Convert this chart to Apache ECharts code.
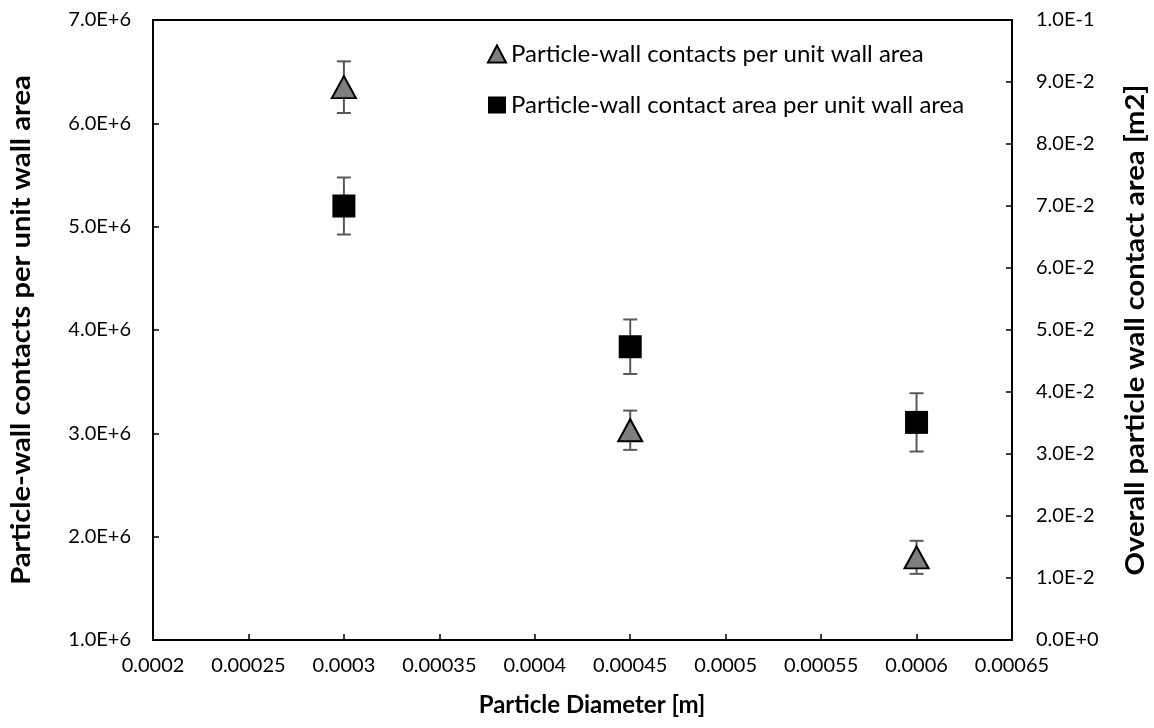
<!DOCTYPE html>
<html>
<head>
<meta charset="utf-8">
<title>Particle-wall contacts vs particle diameter</title>
<script src="https://cdn.jsdelivr.net/npm/echarts@6/dist/echarts.min.js"></script>
<style>
  html, body { margin: 0; padding: 0; background: #fff; }
  #chart { width: 1154px; height: 728px; }
</style>
</head>
<body>
<div id="chart"></div>
<script>
// Particle diameters [m]
const diameters = [0.0003, 0.00045, 0.0006];
// Particle-wall contacts per unit wall area (left axis) and their error half-widths
const contactsPerArea = [6.35e6, 3.03e6, 1.80e6];
const contactsErr = [0.25e6, 0.19e6, 0.16e6];
// Particle-wall contact area per unit wall area (right axis) and their error half-widths
const contactAreaPerArea = [0.0700, 0.0473, 0.0351];
const contactAreaErr = [0.0046, 0.0044, 0.0047];

const seriesNames = [
  'Particle-wall contacts per unit wall area',
  'Particle-wall contact area per unit wall area'
];
const leftTitle = 'Particle-wall contacts per unit wall area';
const rightTitle = 'Overall particle wall contact area [m2]';
const bottomTitle = 'Particle Diameter [m]';

const FONT = 'Lato, "Open Sans", sans-serif';

// Scientific label like 7.0E+6 / 9.0E-2 / 0.0E+0
function sci(v) {
  if (Math.abs(v) < 1e-12) return '0.0E+0';
  const e = Math.floor(Math.log10(Math.abs(v)) + 1e-9);
  const m = v / Math.pow(10, e);
  return m.toFixed(1) + 'E' + (e >= 0 ? '+' : '-') + Math.abs(e);
}

function errorRows(xs, ys, errs) {
  return xs.map((x, i) => [x, ys[i] - errs[i], ys[i] + errs[i]]);
}

// Vertical error bar with caps
function renderErrorBar(params, api) {
  const x = api.value(0);
  const lo = api.coord([x, api.value(1)]);
  const hi = api.coord([x, api.value(2)]);
  const half = 7;
  const style = { stroke: '#595959', lineWidth: 2 };
  return {
    type: 'group',
    children: [
      { type: 'line', shape: { x1: lo[0], y1: lo[1], x2: hi[0], y2: hi[1] }, style },
      { type: 'line', shape: { x1: lo[0] - half, y1: lo[1], x2: lo[0] + half, y2: lo[1] }, style },
      { type: 'line', shape: { x1: hi[0] - half, y1: hi[1], x2: hi[0] + half, y2: hi[1] }, style }
    ]
  };
}

// Rotated axis title, stretched along its baseline
function sideTitle(text, cx, cy, stretch) {
  return {
    type: 'text', x: cx, y: cy, rotation: Math.PI / 2, scaleX: stretch, scaleY: 1,
    style: {
      text, fontFamily: FONT, fontWeight: 'bold', fontSize: 26, fill: '#000',
      align: 'center', verticalAlign: 'middle'
    }
  };
}

const chart = echarts.init(document.getElementById('chart'), null, { renderer: 'canvas' });

const axisCommon = {
  axisLine: { show: true, lineStyle: { color: '#000', width: 2 } },
  axisTick: { show: true, inside: true, length: 6, lineStyle: { color: '#000', width: 1.5 } },
  splitLine: { show: false }
};

chart.setOption({
  backgroundColor: '#fff',
  animation: false,
  textStyle: { fontFamily: FONT },
  grid: {
    left: 153, right: 142, top: 20, bottom: 88,
    show: true, borderColor: '#000', borderWidth: 2, backgroundColor: 'transparent'
  },
  legend: {
    orient: 'vertical',
    left: 482, top: 37,
    itemWidth: 18, itemHeight: 17, itemGap: 27,
    textStyle: { fontFamily: FONT, fontSize: 24, color: '#000' },
    data: [
      { name: seriesNames[0], icon: 'triangle' },
      { name: seriesNames[1], icon: 'rect' }
    ]
  },
  graphic: [
    sideTitle(leftTitle, 22, 330, 1.12),
    sideTitle(rightTitle, 1136, 330, 1.12),
    {
      type: 'text', x: 592, y: 705,
      style: {
        text: bottomTitle, fontFamily: FONT, fontWeight: 'bold', fontSize: 24, fill: '#000',
        align: 'center', verticalAlign: 'middle'
      }
    }
  ],
  xAxis: Object.assign({}, axisCommon, {
    type: 'value',
    min: 0.0002, max: 0.00065, interval: 0.00005,
    axisLabel: {
      margin: 16, fontSize: 20, color: '#000', fontFamily: FONT,
      formatter: v => String(parseFloat(v.toPrecision(6)))
    }
  }),
  yAxis: [
    Object.assign({}, axisCommon, {
      type: 'value', position: 'left',
      min: 1e6, max: 7e6, interval: 1e6,
      axisLabel: { margin: 22, fontSize: 20, color: '#000', fontFamily: FONT, formatter: sci }
    }),
    Object.assign({}, axisCommon, {
      type: 'value', position: 'right',
      min: 0, max: 0.1, interval: 0.01,
      axisLabel: { margin: 24, fontSize: 20, color: '#000', fontFamily: FONT, formatter: sci }
    })
  ],
  series: [
    {
      type: 'custom', name: 'contacts-error', yAxisIndex: 0, z: 1,
      renderItem: renderErrorBar, encode: { x: 0, y: [1, 2] },
      data: errorRows(diameters, contactsPerArea, contactsErr), silent: true
    },
    {
      type: 'custom', name: 'area-error', yAxisIndex: 1, z: 1,
      renderItem: renderErrorBar, encode: { x: 0, y: [1, 2] },
      data: errorRows(diameters, contactAreaPerArea, contactAreaErr), silent: true
    },
    {
      type: 'scatter', name: seriesNames[0], yAxisIndex: 0, z: 3,
      symbol: 'triangle', symbolSize: [24, 22],
      itemStyle: { color: '#7f7f7f', borderColor: '#000', borderWidth: 2, opacity: 1 },
      data: diameters.map((x, i) => [x, contactsPerArea[i]])
    },
    {
      type: 'scatter', name: seriesNames[1], yAxisIndex: 1, z: 3,
      symbol: 'rect', symbolSize: 23,
      itemStyle: { color: '#000', opacity: 1 },
      data: diameters.map((x, i) => [x, contactAreaPerArea[i]])
    }
  ]
});
</script>
</body>
</html>
